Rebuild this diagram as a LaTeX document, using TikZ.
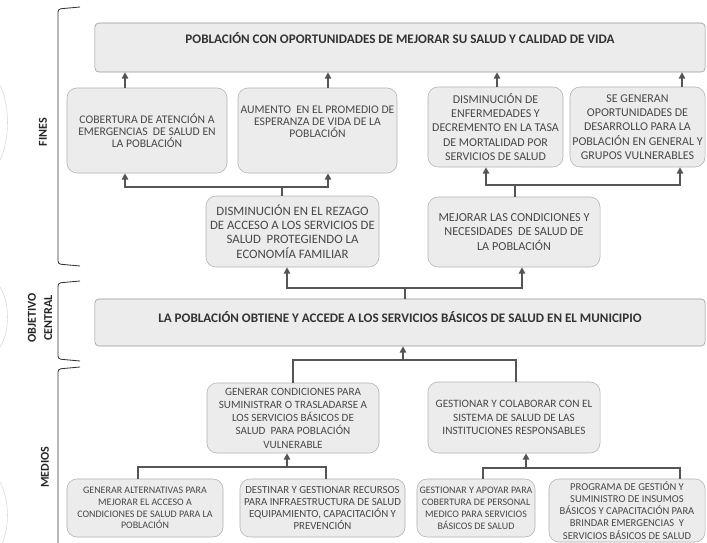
\documentclass[tikz,border=0pt]{standalone}
\usepackage{fontspec}
\setmainfont{Carlito}
\usetikzlibrary{arrows.meta}
\definecolor{BoxFill}{RGB}{236,236,236}
\definecolor{BoxLine}{RGB}{178,178,178}
\definecolor{BandLine}{RGB}{150,150,150}
\definecolor{LinkDark}{RGB}{85,85,85}
\definecolor{TextGray}{RGB}{72,72,72}
\newcommand{\boxfont}[2]{\fontsize{#1}{#2}\selectfont}

\begin{document}
\begin{tikzpicture}[x=0.025cm,y=-0.025cm,
        cell/.style={draw=BoxLine,fill=BoxFill,rounded corners=0.25cm,
                     align=center,text=TextGray,inner sep=1pt},
        band/.style={draw=BandLine,fill=BoxFill,rounded corners=0.1cm,
                     minimum width=15.25cm,text=black!80,
                     font=\bfseries\boxfont{9.3}{10}},
        link/.style={draw=LinkDark,line width=1.2pt},
        pointer/.style={link,-{Triangle[width=4.5pt,length=4.5pt]}},
        bracket/.style={draw=black!80,line width=0.6pt,rounded corners=2pt},
        tag/.style={rotate=90,align=center,text=black!85,
                    font=\bfseries\boxfont{8.6}{11.5}}
      ]
        \useasboundingbox (0,0) rectangle (707,543);
        \clip (0,0) rectangle (707,543);
        % faint arcs on the left edge
        \draw[gray!30] (0,85) .. controls (10,105) and (10,140) .. (0,160);
        \draw[gray!30] (0,287) .. controls (10,302) and (10,332) .. (0,347);
        \draw[gray!30] (0,482) .. controls (10,500) and (10,530) .. (0,548);
        % brackets and their tags
        \draw[bracket] (80,7) -- (58,9) -- (58,264) -- (80,266);
        \draw[bracket] (80,281) -- (58,283) -- (58,359) -- (80,361);
        \draw[bracket] (80,367) -- (58,369) -- (58,560);
        \node[tag] (fines) at (43,132) {FINES};
        \node[tag] (central) at (40,318) {OBJETIVO\\CENTRAL};
        \node[tag] (medios) at (45,467) {MEDIOS};
        % fines
        \node[band,minimum height=1.225cm,text depth=13pt] (fin) at (400,47.5)
          {POBLACIÓN CON OPORTUNIDADES DE MEJORAR SU SALUD Y CALIDAD DE VIDA};
        \node[cell,minimum width=4cm,minimum height=2.125cm,
              font=\boxfont{8.3}{8.5}] (fa) at (147,130.5)
          {COBERTURA DE ATENCIÓN A\\EMERGENCIAS\ \ DE SALUD EN\\LA POBLACIÓN};
        \node[cell,minimum width=3.975cm,minimum height=2.125cm,text depth=12pt,
              font=\boxfont{8.3}{8.5}] (fb) at (317.5,130.5)
          {AUMENTO\ \ EN EL PROMEDIO DE\\ESPERANZA DE VIDA DE LA\\POBLACIÓN};
        \node[cell,minimum width=3.375cm,minimum height=2cm,
              font=\boxfont{8.5}{10.1}] (fc) at (495.5,127)
          {DISMINUCIÓN DE\\ENFERMEDADES Y\\DECREMENTO EN LA TASA\\DE MORTALIDAD POR\\SERVICIOS DE SALUD};
        \node[cell,minimum width=3.375cm,minimum height=2cm,
              font=\boxfont{8.5}{10.1}] (fd) at (637.5,127)
          {SE GENERAN\\OPORTUNIDADES DE\\DESARROLLO PARA LA\\POBLACIÓN EN GENERAL Y\\GRUPOS VULNERABLES};
        \node[cell,minimum width=4.325cm,minimum height=1.775cm,
              font=\boxfont{9.1}{10.1}] (ma) at (292.5,231.5)
          {DISMINUCIÓN EN EL REZAGO\\DE ACCESO A LOS SERVICIOS DE\\SALUD\ \ PROTEGIENDO LA\\ECONOMÍA FAMILIAR};
        \node[cell,minimum width=4.3cm,minimum height=1.75cm,
              font=\boxfont{8.7}{10.3}] (mb) at (514,232)
          {MEJORAR LAS CONDICIONES Y\\NECESIDADES\ \ DE SALUD DE\\LA POBLACIÓN};
        % objetivo central
        \node[band,minimum height=1.175cm,text depth=8pt] (obj) at (400,322.5)
          {LA POBLACIÓN OBTIENE Y ACCEDE A LOS SERVICIOS BÁSICOS DE SALUD EN EL MUNICIPIO};
        % medios
        \node[cell,minimum width=4.3cm,minimum height=1.75cm,
              font=\boxfont{7.9}{9.4}] (ca) at (293,418)
          {GENERAR CONDICIONES PARA\\SUMINISTRAR O TRASLADARSE A\\LOS SERVICIOS BÁSICOS DE\\SALUD\ \ PARA POBLACIÓN\\VULNERABLE};
        \node[cell,minimum width=4.3cm,minimum height=1.775cm,
              font=\boxfont{8}{9.8}] (cb) at (514,417.5)
          {GESTIONAR Y COLABORAR CON EL\\SISTEMA DE SALUD DE LAS\\INSTITUCIONES RESPONSABLES};
        \node[cell,minimum width=3.9cm,minimum height=1.45cm,
              font=\boxfont{7.1}{8.3}] (la) at (145,508)
          {GENERAR ALTERNATIVAS PARA\\MEJORAR EL ACCESO A\\CONDICIONES DE SALUD PARA LA\\POBLACIÓN};
        \node[cell,minimum width=4.125cm,minimum height=1.45cm,
              font=\boxfont{7.7}{8.7}] (lb) at (322.5,508)
          {DESTINAR Y GESTIONAR RECURSOS\\PARA INFRAESTRUCTURA DE SALUD\\EQUIPAMIENTO, CAPACITACIÓN Y\\PREVENCIÓN};
        \node[cell,minimum width=2.95cm,minimum height=1.45cm,
              font=\boxfont{7.1}{8.6}] (lc) at (476,508)
          {GESTIONAR Y APOYAR PARA\\COBERTURA DE PERSONAL\\MEDICO PARA SERVICIOS\\BÁSICOS DE SALUD};
        \node[cell,minimum width=3.9cm,minimum height=1.575cm,
              font=\boxfont{7.5}{8.6}] (ld) at (627,510.5)
          {PROGRAMA DE GESTIÓN Y\\SUMINISTRO DE INSUMOS\\BÁSICOS Y CAPACITACIÓN PARA\\BRINDAR EMERGENCIAS\ \ Y\\SERVICIOS BÁSICOS DE SALUD};
        % links towards the fines
        \draw[pointer] (fa.north -| 125,0) -- (fin.south -| 125,0);
        \draw[pointer] (fb.north -| 328,0) -- (fin.south -| 328,0);
        \draw[pointer] (fc.north -| 497,0) -- (fin.south -| 497,0);
        \draw[pointer] (fd.north -| 682,0) -- (fin.south -| 682,0);
        \coordinate (ja) at (282,187);
        \draw[link] (ma.north -| ja) -- (ja);
        \draw[pointer] (ja) -| (fa.south -| 125,0);
        \draw[pointer] (ja) -| (fb.south -| 328,0);
        \coordinate (jb) at (515,185);
        \draw[link] (mb.north -| jb) -- (jb);
        \draw[pointer] (jb) -| (fc.south -| 486,0);
        \draw[pointer] (jb) -| (fd.south -| 680,0);
        % links from the objective
        \coordinate (jc) at (405,288);
        \draw[link] (obj.north -| jc) -- (jc);
        \draw[pointer] (jc) -| (ma.south -| 287,0);
        \draw[pointer] (jc) -| (mb.south -| 522,0);
        % links from the medios
        \coordinate (jd) at (403,360);
        \draw[pointer] (jd) -- (obj.south -| jd);
        \draw[link] (jd) -| (ca.north -| 293,0);
        \draw[link] (jd) -| (cb.north -| 516,0);
        \coordinate (je) at (287,467);
        \draw[pointer] (je) -- (ca.south -| je);
        \draw[link] (je) -| (la.north -| 138,0);
        \draw[link] (je) -| (lb.north -| 326,0);
        \coordinate (jf) at (526,468);
        \draw[pointer] (jf) -- (cb.south -| jf);
        \draw[link] (jf) -| (lc.north -| 483,0);
        \draw[link] (jf) -| (ld.north -| 680,0);
      \end{tikzpicture}
\end{document}
